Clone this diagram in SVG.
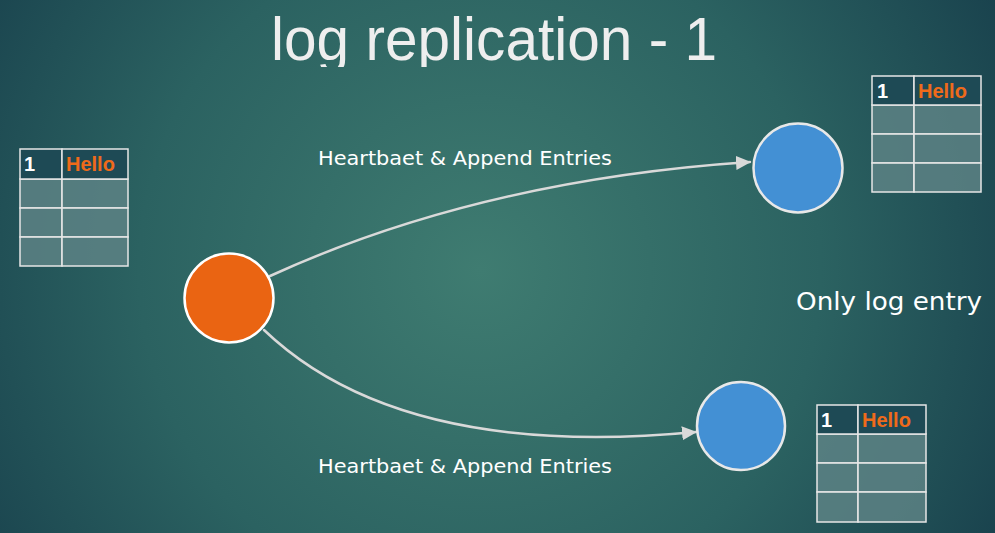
<svg xmlns="http://www.w3.org/2000/svg" width="995" height="533" viewBox="0 0 995 533">
<defs>
<radialGradient id="bg" cx="480" cy="270" r="620" gradientUnits="userSpaceOnUse">
<stop offset="0" stop-color="#3f7c71"/>
<stop offset="0.55" stop-color="#2b6261"/>
<stop offset="1" stop-color="#173e4b"/>
</radialGradient>
<clipPath id="titleClip"><rect x="0" y="0" width="995" height="67"/></clipPath>
<marker id="arrow" markerWidth="16" markerHeight="16" refX="14" refY="8" orient="auto" markerUnits="userSpaceOnUse">
<path d="M0,1 L15,8 L0,15 Z" fill="#d9d9d9"/>
</marker>
<style>
.title{font-family:"Liberation Sans",Arial,sans-serif;font-size:61px;fill:#eeeeee}
.lbl{font-family:"DejaVu Sans","Liberation Sans",sans-serif;fill:#ffffff}
.hdr{fill:#1e4a55;stroke:#e6e6e6;stroke-width:1.5}
.row{fill:#5d8385;fill-opacity:0.85;stroke:#e6e6e6;stroke-width:1.5}
.one{font-family:"Liberation Sans",Arial,sans-serif;font-weight:bold;font-size:20px;fill:#ffffff}
.hello{font-family:"Liberation Sans",Arial,sans-serif;font-weight:bold;font-size:20px;fill:#ef6a1a}
.edge{fill:none;stroke:#d9d9d9;stroke-width:2.5;stroke-linecap:round}
.leader{fill:#ea6412;stroke:#ffffff;stroke-width:2.5}
.follower{fill:#4390d4;stroke:#e8e8e8;stroke-width:2.5}
</style>
</defs>
<rect width="995" height="533" fill="url(#bg)"/>
<g id="title" clip-path="url(#titleClip)">
<text class="title" x="494" y="60" text-anchor="middle" textLength="446" lengthAdjust="spacingAndGlyphs">log replication - 1</text>
</g>
<g id="connectors">
<path class="edge" d="M270,276 Q480,180 750,162" marker-end="url(#arrow)"/>
<path class="edge" d="M264,330 Q400,460 696,432" marker-end="url(#arrow)"/>
</g>
<g id="label-top"><text class="lbl" x="318" y="165" font-size="20" textLength="294" lengthAdjust="spacingAndGlyphs">Heartbaet &amp; Append Entries</text></g>
<g id="label-bottom"><text class="lbl" x="318" y="473" font-size="20" textLength="294" lengthAdjust="spacingAndGlyphs">Heartbaet &amp; Append Entries</text></g>
<g id="label-only"><text class="lbl" x="796" y="310" font-size="24" textLength="186" lengthAdjust="spacingAndGlyphs">Only log entry</text></g>
<g id="leader"><circle class="leader" cx="229" cy="298" r="44.5"/></g>
<g id="follower-top"><circle class="follower" cx="798" cy="168" r="44.5"/></g>
<g id="follower-bottom"><circle class="follower" cx="741" cy="426" r="44"/></g>
<g id="log-leader">
<rect class="row" x="20" y="179" width="42" height="29"/><rect class="row" x="62" y="179" width="66" height="29"/>
<rect class="row" x="20" y="208" width="42" height="29"/><rect class="row" x="62" y="208" width="66" height="29"/>
<rect class="row" x="20" y="237" width="42" height="29"/><rect class="row" x="62" y="237" width="66" height="29"/>
<rect class="hdr" x="20" y="149" width="42" height="30"/><rect class="hdr" x="62" y="149" width="66" height="30"/>
<text class="one" x="24" y="171">1</text><text class="hello" x="66" y="171">Hello</text>
</g>
<g id="log-follower-top">
<rect class="row" x="872" y="105" width="42" height="29"/><rect class="row" x="914" y="105" width="67" height="29"/>
<rect class="row" x="872" y="134" width="42" height="29"/><rect class="row" x="914" y="134" width="67" height="29"/>
<rect class="row" x="872" y="163" width="42" height="29"/><rect class="row" x="914" y="163" width="67" height="29"/>
<rect class="hdr" x="872" y="76" width="42" height="29"/><rect class="hdr" x="914" y="76" width="67" height="29"/>
<text class="one" x="877" y="98">1</text><text class="hello" x="918" y="98">Hello</text>
</g>
<g id="log-follower-bottom">
<rect class="row" x="817" y="434" width="41" height="29"/><rect class="row" x="858" y="434" width="68" height="29"/>
<rect class="row" x="817" y="463" width="41" height="29"/><rect class="row" x="858" y="463" width="68" height="29"/>
<rect class="row" x="817" y="492" width="41" height="30"/><rect class="row" x="858" y="492" width="68" height="30"/>
<rect class="hdr" x="817" y="405" width="41" height="29"/><rect class="hdr" x="858" y="405" width="68" height="29"/>
<text class="one" x="821" y="427">1</text><text class="hello" x="862" y="427">Hello</text>
</g>
</svg>
